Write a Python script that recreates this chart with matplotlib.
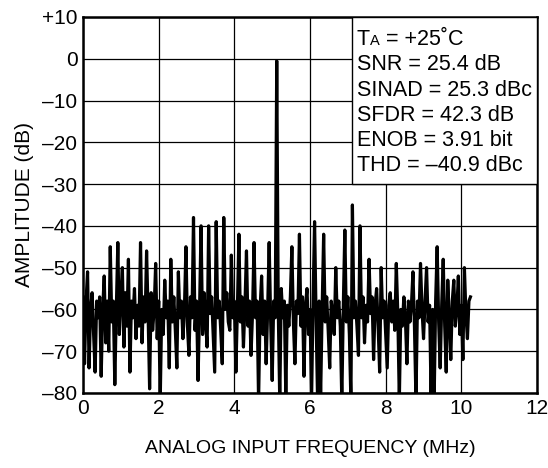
import numpy as np
import matplotlib.pyplot as plt
from matplotlib.patches import Rectangle

plt.rcParams['font.family'] = ['Liberation Sans', 'DejaVu Sans']

# FFT bin spacing (MHz) and amplitude
bin_mhz = 0.04
amplitude_db = [
    -57, -73, -58, -51, -74, -60, -56, -66, -75, -58,
    -62, -57, -76, -60, -52, -68, -58, -70, -45, -63,
    -58, -78, -60, -44, -66, -57, -50, -69, -56, -64,
    -48, -75, -58, -62, -55, -67, -59, -64, -44, -68,
    -57, -63, -46, -61, -79, -56, -65, -60, -49, -67,
    -58, -82, -60, -66, -53, -62, -58, -74, -48, -63,
    -57, -65, -74, -51, -62, -58, -67, -60, -45, -64,
    -71, -57, -62, -38, -65, -58, -77, -60, -40, -66,
    -56, -63, -69, -40, -61, -57, -66, -75, -39, -62,
    -58, -65, -73, -38, -60, -56, -63, -65, -47, -62,
    -58, -75, -60, -42, -63, -57, -69, -59, -46, -64,
    -58, -71, -61, -44, -62, -58, -82, -60, -52, -66,
    -58, -73, -60, -44, -63, -77, -58, -62, -0.5, -60,
    -82, -55, -62, -58, -81, -59, -64, -57, -45, -63,
    -73, -58, -61, -42, -64, -57, -76, -59, -55, -66,
    -60, -82, -58, -39, -62, -82, -58, -81, -60, -42,
    -63, -57, -65, -74, -58, -61, -66, -50, -62, -58,
    -64, -82, -59, -41, -63, -57, -66, -82, -35, -62,
    -58, -64, -71, -40, -62, -57, -68, -59, -63, -48,
    -61, -57, -72, -59, -55, -64, -75, -50, -62, -58,
    -66, -74, -59, -56, -63, -58, -65, -49, -61, -82,
    -60, -64, -57, -62, -73, -58, -63, -59, -51, -64,
    -82, -58, -62, -49, -60, -67, -58, -50, -63, -59,
    -81, -60, -82, -58, -45, -63, -74, -59, -48, -64,
    -75, -53, -62, -72, -58, -53, -64, -60, -52, -66,
    -59, -72, -50, -61, -67, -58, -57,
]
freq_mhz = np.arange(len(amplitude_db)) * bin_mhz

x_ticks = [0, 2, 4, 6, 8, 10, 12]
y_ticks = [10, 0, -10, -20, -30, -40, -50, -60, -70, -80]
y_tick_labels = ['+10', '0', '–10', '–20', '–30', '–40', '–50', '–60', '–70', '–80']

stats_lines = ['SNR = 25.4 dB', 'SINAD = 25.3 dBc', 'SFDR = 42.3 dB',
               'ENOB = 3.91 bit', 'THD = –40.9 dBc']

fig = plt.figure(figsize=(5.48, 4.68), dpi=100)
ax = fig.add_axes([0.1515, 0.1603, 0.8285, 0.8034])

ax.plot(freq_mhz, amplitude_db, color='black', lw=2.3, zorder=2)

ax.set_xlim(0, 12)
ax.set_ylim(-80, 10)
ax.set_xticks(x_ticks)
ax.set_yticks(y_ticks)
ax.set_yticklabels(y_tick_labels)
ax.tick_params(length=0, labelsize=15, pad=4)
ax.set_axisbelow(True)
ax.grid(True, color='black', lw=0.9)
for s in ax.spines.values():
    s.set_linewidth(1.8)

ax.set_xlabel('ANALOG INPUT FREQUENCY (MHz)', fontsize=14, labelpad=16)
ax.set_ylabel('AMPLITUDE (dB)', fontsize=15, labelpad=6)

# stats box in the upper right corner
ax.add_patch(Rectangle((7.1, -30), 4.9, 40, facecolor='white', edgecolor='black',
                       lw=1.0, zorder=3))
x0 = 7.24
ax.annotate('T', (x0, 3.2), fontsize=15.5, va='baseline', zorder=4)
ax.annotate('A', (x0, 3.2), xytext=(9.6, 0), textcoords='offset points',
            fontsize=10.5, va='baseline', zorder=4)
ax.annotate(' = +25˚C', (x0, 3.2), xytext=(16.5, 0), textcoords='offset points',
            fontsize=15.5, va='baseline', zorder=4)
for k, line in enumerate(stats_lines):
    ax.text(x0, 3.2 - 6.0 * (k + 1), line, fontsize=15.5, va='baseline', zorder=4)

fig.savefig('out.png', dpi=100)
